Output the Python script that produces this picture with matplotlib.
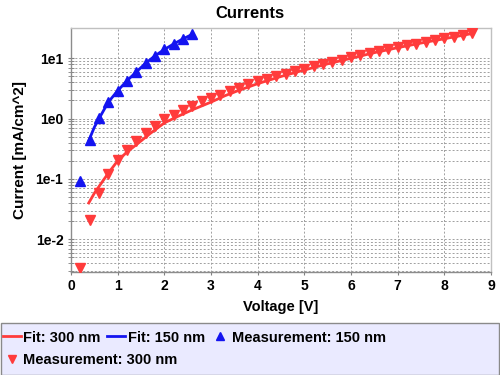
import matplotlib
matplotlib.use("Agg")
import matplotlib.pyplot as plt
import numpy as np
from matplotlib.lines import Line2D
from matplotlib.patches import Rectangle
from matplotlib.ticker import FixedLocator, NullFormatter, FuncFormatter

plt.rcParams['font.family'] = ['Liberation Sans', 'DejaVu Sans']
plt.rcParams['font.weight'] = 'bold'

# ---- data ----
v_meas_150 = [0.2, 0.4, 0.6, 0.8, 1.0, 1.2, 1.4, 1.6, 1.8, 2.0, 2.2, 2.4, 2.6]
i_meas_150 = [0.093, 0.44, 1.01, 1.89, 2.91, 4.27, 6.0, 8.4, 11.1, 14.1, 17.3, 20.9, 25.3]

v_fit_150 = [0.38, 0.5, 0.6, 0.8, 1.0, 1.2, 1.4, 1.6, 1.8, 2.0, 2.2, 2.4, 2.6]
i_fit_150 = [0.43, 0.72, 1.0, 1.88, 2.9, 4.25, 5.95, 8.3, 11.0, 14.0, 17.3, 21.0, 25.0]

v_meas_300 = [0.2, 0.4, 0.6, 0.8, 1.0, 1.2, 1.4, 1.6, 1.8, 2.0,
              2.2, 2.4, 2.6, 2.8, 3.0, 3.2, 3.4, 3.6, 3.8, 4.0,
              4.2, 4.4, 4.6, 4.8, 5.0, 5.2, 5.4, 5.6, 5.8, 6.0,
              6.2, 6.4, 6.6, 6.8, 7.0, 7.2, 7.4, 7.6, 7.8, 8.0,
              8.2, 8.4, 8.6]
i_meas_300 = [0.0034, 0.0211, 0.0586, 0.121, 0.204, 0.306, 0.43, 0.578, 0.766, 0.99,
              1.16, 1.37, 1.60, 1.94, 2.17, 2.47, 2.84, 3.23, 3.75, 4.15,
              4.55, 5.0, 5.5, 6.25, 6.75, 7.36, 8.07, 8.7, 9.5, 10.4,
              11.5, 12.3, 13.1, 14.3, 15.5, 16.7, 17.5, 18.9, 20.2, 21.5,
              22.9, 24.4, 26.4]

v_fit_300 = [0.38, 0.5, 0.6, 0.8, 1.0, 1.2, 1.4, 1.7, 2.0, 2.3, 2.6, 3.0, 3.3, 3.6, 4.0,
             4.5, 5.0, 5.5, 6.0, 6.5, 7.0, 7.5, 8.0, 8.6]
i_fit_300 = [0.04, 0.058, 0.075, 0.125, 0.2, 0.28, 0.37, 0.57, 0.85, 1.1, 1.4, 1.88,
             2.4, 2.95, 3.8, 5.0, 6.4, 8.1, 10.0, 12.4, 15.0, 17.9, 21.1, 25.8]

x_ticks = [0, 1, 2, 3, 4, 5, 6, 7, 8, 9]
y_major = [1e-2, 1e-1, 1e0, 1e1]
y_labels = ['1e-2', '1e-1', '1e0', '1e1']

RED = '#ff3b3b'
BLUE = '#1414f0'

fig = plt.figure(figsize=(5, 3.75), dpi=100)
ax = fig.add_axes([71/500, 1-272/375, 420/500, 244/375])

ax.set_yscale('log')
ax.set_xlim(0, 9)
ax.set_ylim(0.00287, 31.8)

# grid
grid_kw = dict(color='#a0a0a0', linewidth=0.7, linestyle=(0, (2, 2)))
for x in x_ticks[1:-1]:
    ax.axvline(x, zorder=0, **grid_kw)
minor_vals = [m * 10.0**k for k in range(-3, 1) for m in range(2, 10)]
minor_vals = [v for v in minor_vals if 0.00287 < v < 31.8]
for y in minor_vals + y_major:
    ax.axhline(y, zorder=0, **grid_kw)

ax.plot(v_fit_300, i_fit_300, color=RED, lw=2.0, zorder=3)
ax.plot(v_fit_150, i_fit_150, color=BLUE, lw=2.0, zorder=3)
ax.plot(v_meas_150, i_meas_150, linestyle='none', marker='^', ms=7, color=BLUE, zorder=4, clip_on=False)
ax.plot(v_meas_300, i_meas_300, linestyle='none', marker='v', ms=7.5, color=RED, zorder=4)

ax.set_xticks(x_ticks)
ax.yaxis.set_major_locator(FixedLocator(y_major))
ax.yaxis.set_major_formatter(FuncFormatter(lambda v, p: y_labels[y_major.index(v)] if v in y_major else ''))
ax.yaxis.set_minor_locator(FixedLocator(minor_vals))
ax.yaxis.set_minor_formatter(NullFormatter())

ax.tick_params(axis='x', labelsize=10, colors='#808080', labelcolor='black', length=2, width=0.8, pad=3)
ax.tick_params(axis='y', which='major', labelsize=10, colors='#808080', labelcolor='black',
               direction='inout', length=5, width=0.8, pad=3)
ax.tick_params(axis='y', which='minor', colors='#808080', direction='inout', length=4, width=0.6)
for lab in ax.get_xticklabels() + ax.get_yticklabels():
    lab.set_fontweight('bold')

for s in ['top', 'right']:
    ax.spines[s].set_color('#c0c0c0')
for s in ['left', 'bottom']:
    ax.spines[s].set_color('#8c8c8c')
for s in ax.spines.values():
    s.set_linewidth(1.0)

fig.text(0.5, 1-13/375, 'Currents', fontsize=12, fontweight='bold', ha='center', va='center')
ax.set_xlabel('Voltage [V]', fontsize=10.5, fontweight='bold', labelpad=5)
ax.set_ylabel('Current [mA/cm^2]', fontsize=11, fontweight='bold', labelpad=6)

# legend box
fig.patches.append(Rectangle((0.5/500, 1-374.5/375), 498.5/500, 51.5/375, transform=fig.transFigure,
                             facecolor='#eaeaff', edgecolor='#8a8a8a', linewidth=1.0, zorder=0))

h_fit300 = Line2D([], [], color=RED, lw=2)
h_fit150 = Line2D([], [], color=BLUE, lw=2)
h_m150 = Line2D([], [], color=BLUE, marker='^', ms=6, linestyle='none')
h_m300 = Line2D([], [], color=RED, marker='v', ms=6, linestyle='none')

leg_kw = dict(frameon=False, loc='center left', borderpad=0, borderaxespad=0,
              handlelength=1.2, handletextpad=0.2, columnspacing=0.45,
              prop={'size': 10.5, 'weight': 'bold'})
leg1 = fig.legend([h_fit300, h_fit150, h_m150], ['Fit: 300 nm', 'Fit: 150 nm', 'Measurement: 150 nm'],
                  ncol=3, bbox_to_anchor=(3/500, 1-337.5/375), **leg_kw)
leg2 = fig.legend([h_m300], ['Measurement: 300 nm'], ncol=1,
                  bbox_to_anchor=(3/500, 1-360/375), **leg_kw)

fig.savefig('out.png', dpi=100)
